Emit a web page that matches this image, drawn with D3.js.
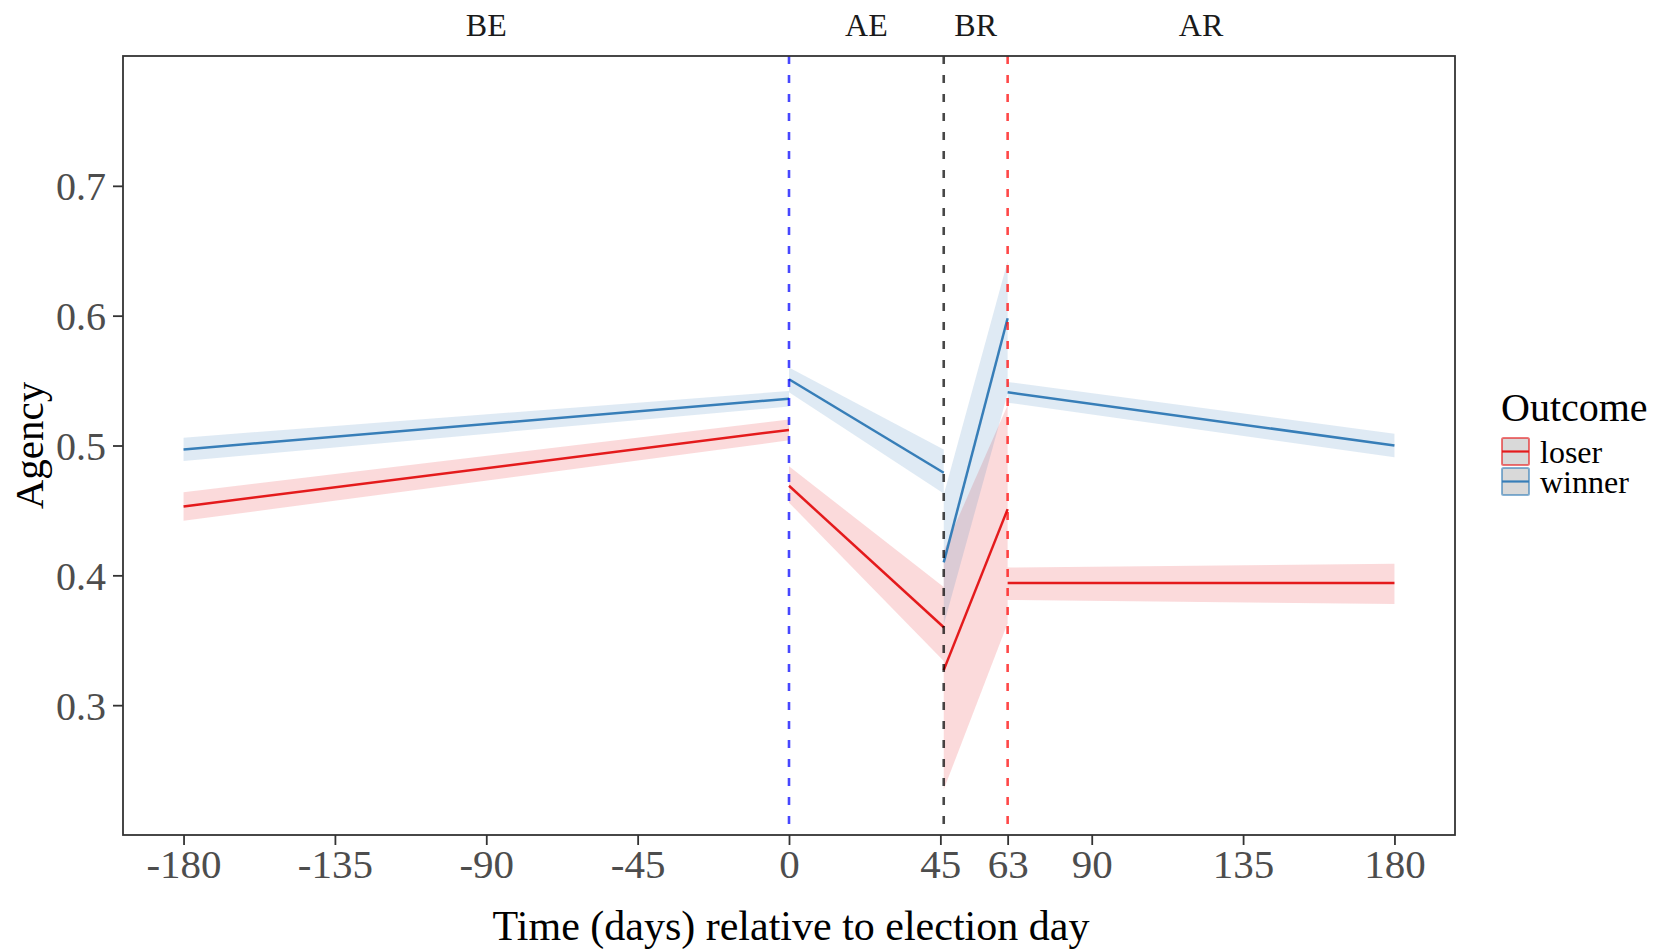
<!DOCTYPE html>
<html>
<head>
<meta charset="utf-8">
<script src="https://cdn.jsdelivr.net/npm/d3@7"></script>
<style>
  body { margin: 0; background: #fff; }
  svg { display: block; font-family: "Liberation Serif", "Times New Roman", serif; }
</style>
</head>
<body>
<div id="app"></div>
<script>
// periods and their day spans
const periods = ["BE", "AE", "BR", "AR"];
const periodDays = [[-180, 0], [0, 46], [46, 65], [65, 180]];

// fitted values (start, end) for each period
const winnerFit = [[0.497, 0.536], [0.551, 0.479], [0.410, 0.598], [0.541, 0.500]];
const winnerLo  = [[0.488, 0.530], [0.541, 0.463], [0.362, 0.540], [0.533, 0.491]];
const winnerHi  = [[0.506, 0.542], [0.560, 0.497], [0.462, 0.642], [0.549, 0.509]];

const loserFit = [[0.453, 0.512], [0.469, 0.360], [0.327, 0.451], [0.394, 0.394]];
const loserLo  = [[0.442, 0.504], [0.456, 0.334], [0.235, 0.363], [0.381, 0.378]];
const loserHi  = [[0.464, 0.520], [0.484, 0.391], [0.419, 0.531], [0.406, 0.409]];

// event lines
const eventDays = [0, 46, 65];
const eventColors = ["#0000ff", "#000000", "#ff0000"];

// axis ticks
const xBreaks = [-180, -135, -90, -45, 0, 45, 65, 90, 135, 180];
const xLabels = ["-180", "-135", "-90", "-45", "0", "45", "63", "90", "135", "180"];
const yBreaks = [0.3, 0.4, 0.5, 0.6, 0.7];

const outcomes = ["loser", "winner"];
const outcomeColors = { loser: "#E41A1C", winner: "#377EB8" };

const W = 1671, H = 951;
const panel = { left: 123, right: 1455, top: 56, bottom: 835 };

const x = d3.scaleLinear().domain([-198, 198]).range([panel.left, panel.right]);
const y = d3.scaleLinear().domain([0.2, 0.8]).range([panel.bottom, panel.top]);

const svg = d3.select('#app').append('svg')
  .attr('width', W)
  .attr('height', H);

// build segment rows
function rows(fit, lo, hi) {
  return periodDays.map((days, i) => days.map((d, j) => ({
    x: d, y: fit[i][j], lo: lo[i][j], hi: hi[i][j]
  })));
}
const series = {
  loser: rows(loserFit, loserLo, loserHi),
  winner: rows(winnerFit, winnerLo, winnerHi)
};

const band = d3.area()
  .x(d => x(d.x))
  .y0(d => y(d.lo))
  .y1(d => y(d.hi));

const ln = d3.line()
  .x(d => x(d.x))
  .y(d => y(d.y));

const plot = svg.append('g');

outcomes.forEach(o => {
  plot.selectAll('.band-' + o)
    .data(series[o])
    .enter().append('path')
    .attr('d', band)
    .attr('fill', outcomeColors[o])
    .attr('fill-opacity', 0.16)
    .attr('stroke', 'none');
});

outcomes.forEach(o => {
  plot.selectAll('.line-' + o)
    .data(series[o])
    .enter().append('path')
    .attr('d', ln)
    .attr('fill', 'none')
    .attr('stroke', outcomeColors[o])
    .attr('stroke-width', 2.5);
});

// dashed event lines
plot.selectAll('.event')
  .data(eventDays)
  .enter().append('line')
  .attr('x1', d => x(d)).attr('x2', d => x(d))
  .attr('y1', panel.top).attr('y2', panel.bottom)
  .attr('stroke', (d, i) => eventColors[i])
  .attr('stroke-opacity', 0.72)
  .attr('stroke-width', 2.6)
  .attr('stroke-dasharray', '8,11');

// panel border
svg.append('rect')
  .attr('x', panel.left).attr('y', panel.top)
  .attr('width', panel.right - panel.left)
  .attr('height', panel.bottom - panel.top)
  .attr('fill', 'none')
  .attr('stroke', '#333')
  .attr('stroke-width', 1.8);

// axes
const xAxis = d3.axisBottom(x)
  .tickValues(xBreaks)
  .tickFormat((d, i) => xLabels[i])
  .tickSize(10)
  .tickSizeOuter(0);

const xg = svg.append('g')
  .attr('transform', 'translate(0,' + panel.bottom + ')')
  .call(xAxis);
xg.select('.domain').remove();
xg.selectAll('.tick line').attr('stroke', '#333').attr('stroke-width', 1.8);
xg.selectAll('.tick text')
  .attr('y', 43).attr('dy', null)
  .attr('fill', '#4d4d4d')
  .style('font-size', '41px')
  .style('font-family', '"Liberation Serif", serif');

const yAxis = d3.axisLeft(y)
  .tickValues(yBreaks)
  .tickFormat(d3.format('.1f'))
  .tickSize(10)
  .tickSizeOuter(0);

const yg = svg.append('g')
  .attr('transform', 'translate(' + panel.left + ',0)')
  .call(yAxis);
yg.select('.domain').remove();
yg.selectAll('.tick line').attr('stroke', '#333').attr('stroke-width', 1.8);
yg.selectAll('.tick text')
  .attr('x', -17).attr('dy', '0.35em')
  .attr('fill', '#4d4d4d')
  .style('font-size', '40px')
  .style('font-family', '"Liberation Serif", serif');

// period labels above the panel
svg.selectAll('.period')
  .data(periods)
  .enter().append('text')
  .attr('x', (d, i) => x((periodDays[i][0] + periodDays[i][1]) / 2))
  .attr('y', 36)
  .attr('text-anchor', 'middle')
  .attr('fill', '#1a1a1a')
  .style('font-size', '32px')
  .text(d => d);

// axis titles
svg.append('text')
  .attr('x', (panel.left + panel.right) / 2 + 2)
  .attr('y', 940)
  .attr('text-anchor', 'middle')
  .attr('fill', '#000')
  .style('font-size', '42px')
  .text('Time (days) relative to election day');

svg.append('text')
  .attr('transform', 'translate(43,' + ((panel.top + panel.bottom) / 2) + ') rotate(-90)')
  .attr('text-anchor', 'middle')
  .attr('fill', '#000')
  .style('font-size', '41px')
  .text('Agency');

// legend
const legend = svg.append('g').attr('transform', 'translate(1501,0)');
legend.append('text')
  .attr('x', 0).attr('y', 421)
  .attr('fill', '#000')
  .style('font-size', '40px')
  .text('Outcome');

const keys = legend.selectAll('.key')
  .data(outcomes)
  .enter().append('g')
  .attr('transform', (d, i) => 'translate(0,' + (437 + i * 30) + ')');

keys.append('rect')
  .attr('x', 1).attr('y', 1)
  .attr('width', 27).attr('height', 27)
  .attr('rx', 1.5)
  .attr('fill', '#d9d9d9')
  .attr('stroke', d => outcomeColors[d])
  .attr('stroke-opacity', 0.6)
  .attr('stroke-width', 2);

keys.append('line')
  .attr('x1', 1).attr('x2', 28)
  .attr('y1', 14.5).attr('y2', 14.5)
  .attr('stroke', d => outcomeColors[d])
  .attr('stroke-width', 2.2);

keys.append('text')
  .attr('x', 39).attr('y', 26)
  .attr('fill', '#000')
  .style('font-size', '32px')
  .text(d => d);
</script>
</body>
</html>
